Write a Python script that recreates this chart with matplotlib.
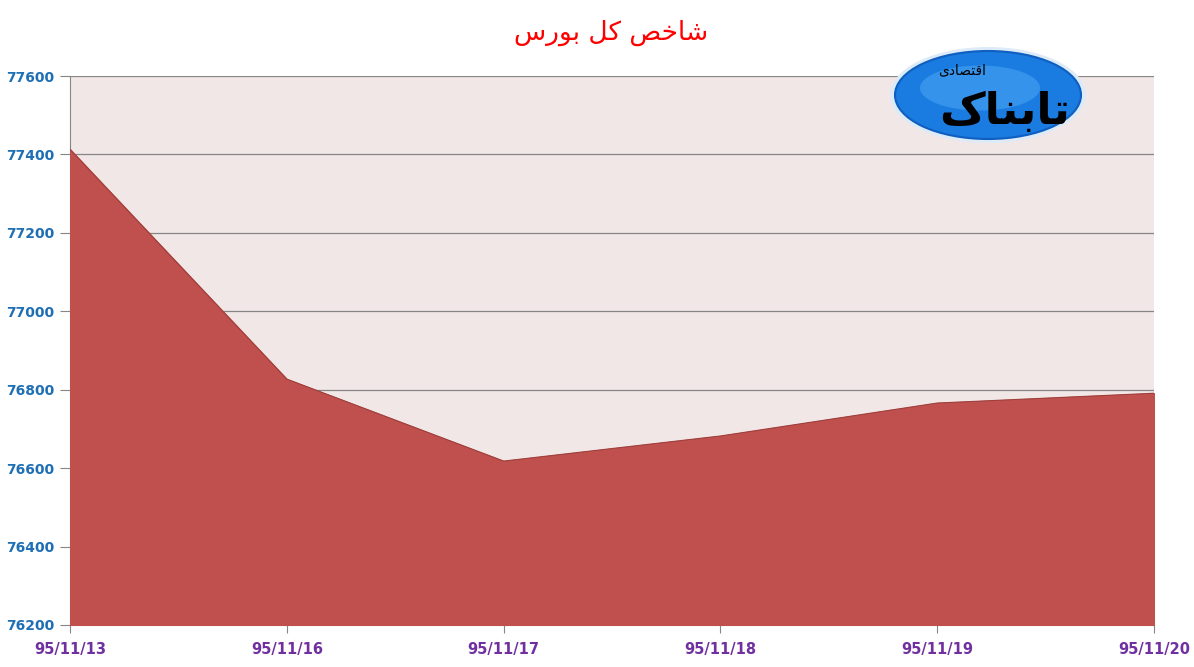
import matplotlib
matplotlib.use("Agg")
import matplotlib.pyplot as plt
from matplotlib.patches import Ellipse

# data
dates = ["95/11/13", "95/11/16", "95/11/17", "95/11/18", "95/11/19", "95/11/20"]
index_values = [77413, 76827, 76618, 76682, 76766, 76791]
y_ticks = [76200, 76400, 76600, 76800, 77000, 77200, 77400, 77600]

# Persian text in presentation forms, visual order (matplotlib has no shaping)
title_text = "\uFEB1\uFEAD\uFEEE\uFE91 \uFEDE\uFB90 \uFEBA\uFEA7\uFE8E\uFEB7"
logo_main = "\uFB8E\uFE8E\uFEE8\uFE91\uFE8E\uFE97"
logo_sub = "\uFBFC\uFEA9\uFE8E\uFEBC\uFE98\uFED7\uFE8D"

fig = plt.figure(figsize=(11.94, 6.67), dpi=100)
ax = fig.add_axes([70 / 1194, 42 / 667, 1084 / 1194, 549 / 667])

x = list(range(len(dates)))
ax.set_facecolor("#F2E7E7")
ax.fill_between(x, 76200, index_values, color="#C0504D", zorder=3)
ax.plot(x, index_values, color="#9E3F3C", lw=0.8, zorder=4)

ax.set_xlim(0, len(dates) - 1)
ax.set_ylim(76200, 77600)
ax.set_yticks(y_ticks)
ax.set_yticklabels([str(v) for v in y_ticks], color="#1F6FB5",
                   fontweight="bold", fontsize=10)
ax.set_xticks(x)
ax.set_xticklabels(dates, color="#7030A0", fontweight="bold", fontsize=10.5)
ax.tick_params(axis="y", length=7, color="#868686", pad=4)
ax.tick_params(axis="x", length=6, color="#868686", pad=6)
ax.grid(axis="y", color="#868686", lw=0.9, zorder=1)

for side in ["top", "right"]:
    ax.spines[side].set_visible(False)
for side in ["left", "bottom"]:
    ax.spines[side].set_color("#868686")

fig.text(611 / 1194, 1 - 33 / 667, title_text, color="#FF0000", fontsize=19,
         ha="center", va="center", family=["DejaVu Sans"])

# logo watermark
fig.add_artist(Ellipse((988 / 1194, 1 - 95 / 667), 196 / 1194, 96 / 667,
                       transform=fig.transFigure, facecolor="#DDEBF8",
                       edgecolor="none", zorder=9))
fig.add_artist(Ellipse((988 / 1194, 1 - 95 / 667), 186 / 1194, 88 / 667,
                       transform=fig.transFigure, facecolor="#1A7BE0",
                       edgecolor="#0F5FC0", lw=1.5, zorder=10))
fig.add_artist(Ellipse((980 / 1194, 1 - 88 / 667), 120 / 1194, 45 / 667,
                       transform=fig.transFigure, facecolor="#3C9AF0",
                       edgecolor="none", alpha=0.8, zorder=10))
fig.text(1005 / 1194, 1 - 112 / 667, logo_main, fontsize=32, fontweight="bold",
         color="black", ha="center", va="center", zorder=11)
fig.text(962 / 1194, 1 - 70 / 667, logo_sub, fontsize=10, color="black",
         ha="center", va="center", zorder=11)

fig.savefig("out.png", dpi=100)
